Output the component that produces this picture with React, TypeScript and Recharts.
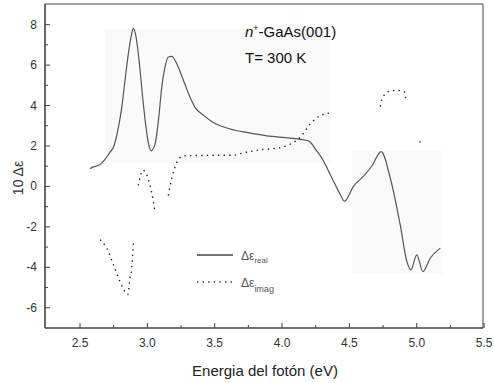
import React from 'react';
import { LineChart, Line, XAxis, YAxis, ReferenceArea } from 'recharts';

// Δε_real (solid)
const realEnergy = [2.574, 2.587, 2.649, 2.686, 2.723, 2.747, 2.785, 2.81, 2.834, 2.859, 2.884, 2.896, 2.916, 2.941, 2.965, 2.99, 3.015, 3.027, 3.057, 3.082, 3.107, 3.131, 3.156, 3.181, 3.218, 3.268, 3.317, 3.354, 3.42, 3.49, 3.614, 3.738, 3.887, 4.06, 4.196, 4.257, 4.308, 4.333, 4.382, 4.432, 4.464, 4.53, 4.605, 4.667, 4.736, 4.803, 4.877, 4.927, 4.957, 5.0, 5.046, 5.1, 5.175];
const realValue = [0.88, 0.93, 1.09, 1.34, 1.7, 1.92, 2.92, 3.91, 5.24, 6.57, 7.56, 7.81, 7.39, 6.07, 4.41, 2.92, 1.92, 1.76, 2.09, 3.25, 4.91, 5.9, 6.4, 6.43, 6.07, 5.24, 4.41, 3.91, 3.5, 3.16, 2.84, 2.67, 2.5, 2.39, 2.25, 1.76, 1.26, 0.93, 0.26, -0.4, -0.73, 0.0, 0.51, 1.01, 1.72, 0.43, -1.89, -3.72, -4.13, -3.38, -4.21, -3.55, -3.05];

// Δε_imag (dotted); null = gap in the printed curve
const imagEnergy = [2.649, 2.698, 2.747, 2.797, 2.822, 2.855, 2.871, 2.884, 2.896, 2.91, 2.933, 2.946, 2.966, 3.02, 3.045, 3.054, 3.1, 3.156, 3.181, 3.198, 3.218, 3.268, 3.4, 3.55, 3.639, 3.69, 3.837, 3.986, 4.06, 4.134, 4.209, 4.283, 4.357, 4.5, 4.729, 4.741, 4.79, 4.85, 4.907, 4.922, 4.97, 5.02, 5.05];
const imagValue: (number | null)[] = [-2.64, -3.05, -3.85, -4.71, -5.07, -5.34, -4.55, -4.05, -2.8, null, 0.05, 0.46, 0.8, 0.05, -0.78, -1.16, null, -0.45, 0.4, 0.8, 1.17, 1.51, 1.53, 1.54, 1.54, 1.62, 1.81, 1.92, 2.09, 2.42, 3.08, 3.5, 3.63, null, 3.95, 4.29, 4.69, 4.75, 4.68, 4.16, null, 2.22, 2.12];

const xTicks = [2.5, 2.75, 3.0, 3.25, 3.5, 3.75, 4.0, 4.25, 4.5, 4.75, 5.0, 5.25, 5.5];
const xMajorLabels: Record<string, string> = { '2.5': '2.5', '3': '3.0', '3.5': '3.5', '4': '4.0', '4.5': '4.5', '5': '5.0', '5.5': '5.5' };
const yTicks = [-6, -5, -4, -3, -2, -1, 0, 1, 2, 3, 4, 5, 6, 7, 8];

// faint grey patches of the scanned original
const shadeX1 = [2.686, 4.519];
const shadeX2 = [4.363, 5.195];
const shadeY1 = [1.15, -4.32];
const shadeY2 = [7.78, 1.77];

const realData = realEnergy.map((e, i) => ({ e, v: realValue[i] }));
const imagData = imagEnergy.map((e, i) => ({ e, v: imagValue[i] }));

const W = 494;
const H = 383;
const M = { top: 4, right: 11, bottom: 0, left: 5 };
const Y_AXIS_W = 40;
const X_AXIS_H = 55;
const PLOT_LEFT = M.left + Y_AXIS_W;
const PLOT_BOTTOM = H - M.bottom - X_AXIS_H;
const FONT = '"Liberation Sans", Arial, sans-serif';
const AX = '#444';

const YTick = (props: any) => {
  const { y, payload } = props;
  const v = payload.value;
  const major = v % 2 === 0;
  return (
    <g>
      <line x1={PLOT_LEFT} x2={PLOT_LEFT + (major ? 5 : 3)} y1={y} y2={y} stroke={AX} strokeWidth={1} />
      {major && (
        <text x={PLOT_LEFT - 8} y={y} textAnchor="end" dominantBaseline="central" fontSize={12} fontFamily={FONT} fill="#333">
          {v}
        </text>
      )}
    </g>
  );
};

const XTick = (props: any) => {
  const { x, payload } = props;
  const v = payload.value;
  const label = xMajorLabels[String(v)];
  const major = label !== undefined;
  return (
    <g>
      <line x1={x} x2={x} y1={PLOT_BOTTOM} y2={PLOT_BOTTOM - (major ? 5 : 3)} stroke={AX} strokeWidth={1} />
      {major && (
        <text x={x} y={PLOT_BOTTOM + 15} textAnchor="middle" dominantBaseline="central" fontSize={12} fontFamily={FONT} fill="#333">
          {label}
        </text>
      )}
    </g>
  );
};

export default function App() {
  return (
    <div style={{ position: 'absolute', left: 0, top: 0, width: W, height: H, background: '#fff' }}>
      <LineChart width={W} height={H} margin={M}>
        {shadeX1.map((x1, i) => (
          <ReferenceArea key={i} x1={x1} x2={shadeX2[i]} y1={shadeY1[i]} y2={shadeY2[i]} fill="#fafafa" fillOpacity={1} stroke="none" />
        ))}
        <XAxis
          type="number"
          dataKey="e"
          domain={[2.24, 5.492]}
          allowDataOverflow
          ticks={xTicks}
          tick={<XTick />}
          tickLine={false}
          axisLine={{ stroke: AX, strokeWidth: 1.2 }}
          height={X_AXIS_H}
          interval={0}
        />
        <YAxis
          type="number"
          dataKey="v"
          domain={[-7, 9.02]}
          allowDataOverflow
          ticks={yTicks}
          tick={<YTick />}
          tickLine={false}
          axisLine={{ stroke: AX, strokeWidth: 1.2 }}
          width={Y_AXIS_W}
          interval={0}
        />
        <ReferenceArea x1={2.24} x2={5.492} y1={-7} y2={9.02} fill="none" stroke={AX} strokeWidth={1} ifOverflow="visible" />
        <Line data={realData} dataKey="v" type="monotone" stroke="#555" strokeWidth={1.2} dot={false} isAnimationActive={false} />
        <Line data={imagData} dataKey="v" type="monotone" stroke="#222" strokeWidth={1.4} strokeDasharray="1.4 4.2" dot={false} isAnimationActive={false} />
      </LineChart>
      <svg width={W} height={H} style={{ position: 'absolute', left: 0, top: 0, pointerEvents: 'none' }}>
        <text x={245} y={37} fontSize={15} fontFamily={FONT} fill="#111">
          <tspan fontStyle="italic">n</tspan>
          <tspan dy={-6} fontSize={9}>+</tspan>
          <tspan dy={6}>-GaAs(001)</tspan>
        </text>
        <text x={245} y={63} fontSize={15} fontFamily={FONT} fill="#111">T= 300 K</text>
        <line x1={197} x2={233} y1={255} y2={255} stroke="#444" strokeWidth={1.3} />
        <line x1={197} x2={233} y1={282} y2={282} stroke="#333" strokeWidth={1.3} strokeDasharray="1.4 4.2" />
        <text x={241} y={260} fontSize={12} fontFamily={FONT} fill="#555">
          Δε<tspan fontSize={8} dy={3}>real</tspan>
        </text>
        <text x={241} y={287} fontSize={12} fontFamily={FONT} fill="#555">
          Δε<tspan fontSize={9} dy={5}>imag</tspan>
        </text>
        <text x={18} y={178} transform="rotate(-90 18 178)" textAnchor="middle" dominantBaseline="central" fontSize={14} fontFamily={FONT} fill="#333">
          10 Δε
        </text>
        <text x={265} y={370} textAnchor="middle" dominantBaseline="central" fontSize={15} fontFamily={FONT} fill="#222">
          Energia del fotón (eV)
        </text>
      </svg>
    </div>
  );
}
